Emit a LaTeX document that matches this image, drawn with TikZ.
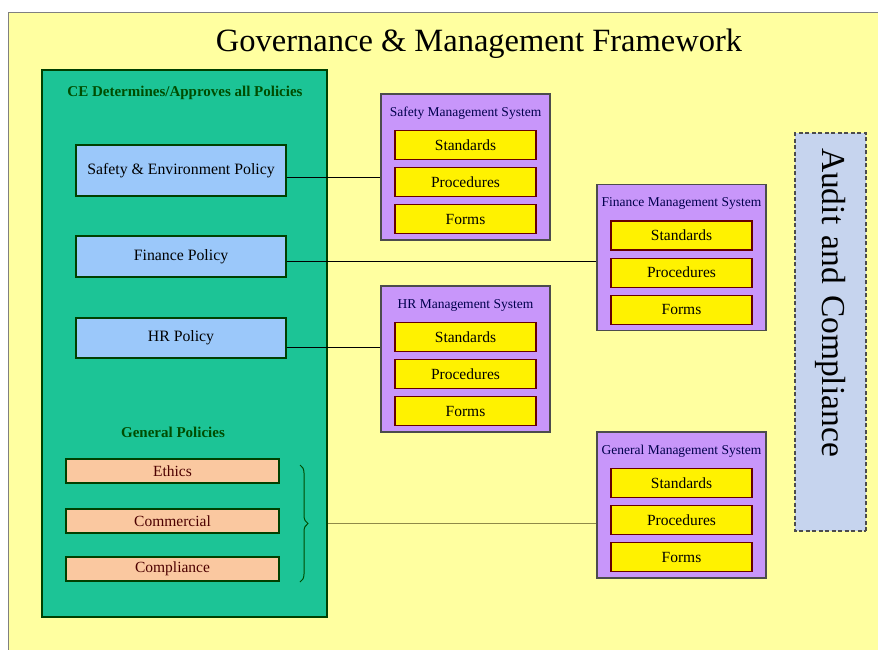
\documentclass[tikz,border=0pt]{standalone}
\usepackage{fontspec}
\setmainfont{Liberation Serif}
\usetikzlibrary{positioning,decorations.pathreplacing}
\definecolor{panel}{RGB}{255,255,160}
\definecolor{teal}{RGB}{28,196,150}
\definecolor{polblue}{RGB}{155,200,250}
\definecolor{peach}{RGB}{250,200,160}
\definecolor{lilac}{RGB}{200,150,250}
\definecolor{auditblue}{RGB}{198,212,238}
\begin{document}
\begin{tikzpicture}[x=1pt,y=-1pt,
    box/.style={draw=black!75!green,line width=1.2pt,inner sep=0pt},
    policy/.style={box,fill=polblue,minimum width=210pt,font=\fontsize{15.8}{16}\selectfont},
    general/.style={box,fill=peach,minimum width=213pt,minimum height=24pt,
      text=black!70!red,font=\fontsize{15.5}{16}\selectfont},
    sysbox/.style={draw=black!70,line width=1.2pt,fill=lilac,minimum width=169pt,minimum height=146pt},
    systitle/.style={text=blue!30!black,font=\fontsize{13.5}{14}\selectfont},
    sub/.style={draw=black!60!red,line width=1.2pt,fill=yellow,minimum width=141pt,minimum height=29pt,
      inner sep=0pt,font=\fontsize{15.5}{16}\selectfont},
    heading/.style={font=\bfseries\fontsize{15}{15}\selectfont,text=black!70!green}]
\useasboundingbox (0,0) rectangle (878,649);
\fill[white] (0,0) rectangle (878,649);
\draw[gray,fill=panel] (8,12) rectangle (880,651);
\node[font=\fontsize{32.5}{33}\selectfont] (title) at (479,44) {Governance \& Management Framework};

\node[box,fill=teal,minimum width=285pt,minimum height=547pt] (ce) at (184.5,343.5) {};
\node[heading] (ceh) at (185,93) {CE Determines/Approves all Policies};
\node[policy,minimum height=51pt] (safpol) at (181,170.5) {Safety \& Environment Policy};
\node[policy,minimum height=41pt] (finpol) at (181,256.5) {Finance Policy};
\node[policy,minimum height=40pt] (hrpol) at (181,338) {HR Policy};
\node[heading] (genh) at (173,432) {General Policies};
\node[general] (ethics) at (172.5,471) {Ethics};
\node[general] (comm) at (172.5,521) {Commercial};
\node[general] (compl) at (172.5,569) {Compliance};

\foreach \n/\x/\y/\t in {sms/465.5/167/Safety Management System,
    fms/681.5/257.5/Finance Management System,
    hrms/465.5/359/HR Management System,
    gms/681.5/505/General Management System}{
  \node[sysbox] (\n) at (\x,\y) {};
  \node[systitle] (\n-t) at ([yshift=-20pt]\n.north) {\t};
  \node[sub] (\n-std) at ([yshift=-51.5pt]\n.north) {Standards};
  \node[sub,below=7pt of \n-std] (\n-proc) {Procedures};
  \node[sub,below=7pt of \n-proc] (\n-frm) {Forms};
}

\node[draw=black!70,dashed,dash pattern=on 4pt off 2.5pt,line width=1.2pt,fill=auditblue,
  minimum width=398pt,minimum height=71pt,rotate=-90,inner xsep=15pt,text width=368pt,align=left,
  font=\fontsize{33.5}{34}\selectfont]
  (audit) at (830.5,332) {Audit and Compliance};

\draw[line width=1pt] ([yshift=-7pt]safpol.east) -- ([yshift=-7pt]safpol.east -| sms.west);
\draw[line width=1pt] ([yshift=-5pt]finpol.east) -- ([yshift=-5pt]finpol.east -| fms.west);
\draw[line width=1pt] ([yshift=-9pt]hrpol.east) -- ([yshift=-9pt]hrpol.east -| hrms.west);

\draw[line width=1pt,black!70!green,decorate,decoration={brace,amplitude=8pt}]
  (300,465) -- (300,582);
\coordinate (gtip) at (328,523);
\draw[line width=1pt,black!50!yellow] (gtip) -- (gtip -| gms.west);
\end{tikzpicture}
\end{document}
